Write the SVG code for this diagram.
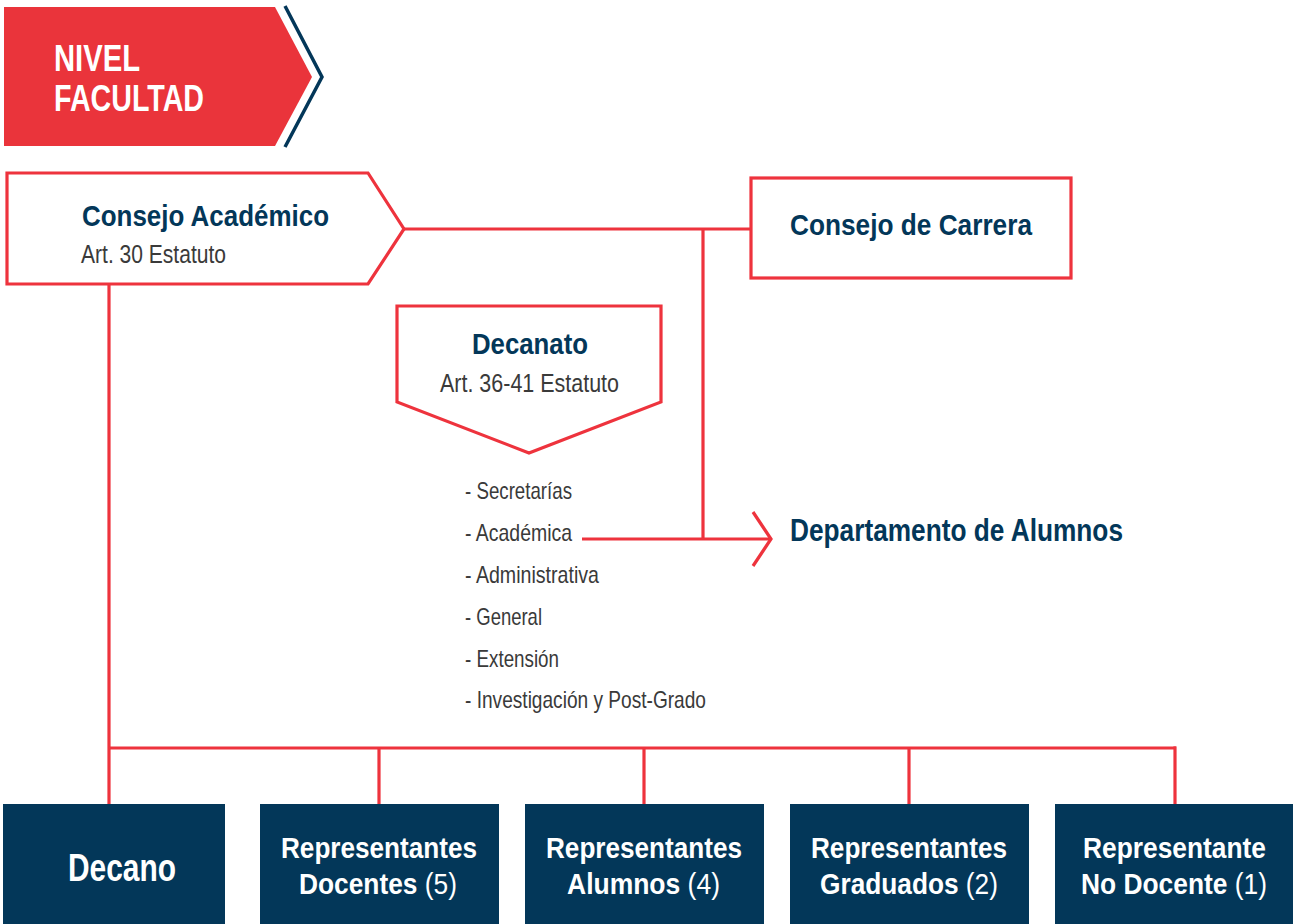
<svg xmlns="http://www.w3.org/2000/svg" width="1293" height="924" viewBox="0 0 1293 924">
<style>
.f{font-family:"Liberation Sans",Arial,sans-serif}
.b{font-weight:bold;fill:#033759}
.r{fill:#3a3a3a}
.w{fill:#ffffff;font-weight:bold}
.n{font-weight:normal}
.ln{fill:none;stroke:#EE333D;stroke-width:3.2}
.box{fill:#033759}
</style>
<rect width="1293" height="924" fill="#ffffff"/>
<g id="header">
<polygon points="4,7 275,7 312,77 275,146 4,146" fill="#EA343B"/>
<polyline points="285,6 322,77 285,147" fill="none" stroke="#033759" stroke-width="3.5"/>
<text class="f w" x="54" y="71" font-size="36" textLength="86" lengthAdjust="spacingAndGlyphs">NIVEL</text>
<text class="f w" x="54" y="111" font-size="36" textLength="150" lengthAdjust="spacingAndGlyphs">FACULTAD</text>
</g>
<g id="connectors" class="ln">
<line x1="404" y1="229" x2="752" y2="229"/>
<line x1="703" y1="229" x2="703" y2="539"/>
<line x1="582" y1="539" x2="771" y2="539"/>
<polyline points="753,512 771,539 753,566"/>
<line x1="109" y1="284" x2="109" y2="804"/>
<line x1="109" y1="748" x2="1176" y2="748"/>
<line x1="379" y1="748" x2="379" y2="804"/>
<line x1="644" y1="748" x2="644" y2="804"/>
<line x1="909" y1="748" x2="909" y2="804"/>
<line x1="1175" y1="746.4" x2="1175" y2="804"/>
</g>
<g id="consejo-academico">
<polygon class="ln" points="7,173 368,173 404,229 368,284 7,284" fill="#fff"/>
<text class="f b" x="82" y="226" font-size="30" textLength="247" lengthAdjust="spacingAndGlyphs">Consejo Académico</text>
<text class="f r" x="81" y="263" font-size="25" textLength="145" lengthAdjust="spacingAndGlyphs">Art. 30 Estatuto</text>
</g>
<g id="consejo-carrera">
<rect class="ln" x="751" y="178" width="320" height="100" fill="#fff"/>
<text class="f b" x="790" y="235" font-size="30" textLength="242" lengthAdjust="spacingAndGlyphs">Consejo de Carrera</text>
</g>
<g id="decanato">
<polygon class="ln" points="397,306 661,306 661,402 529,453 397,402" fill="#fff"/>
<text class="f b" x="472" y="354" font-size="30" textLength="116" lengthAdjust="spacingAndGlyphs">Decanato</text>
<text class="f r" x="440" y="392" font-size="25" textLength="179" lengthAdjust="spacingAndGlyphs">Art. 36-41 Estatuto</text>
</g>
<g id="secretarias" class="f r" font-size="24">
<text x="465" y="499" textLength="107" lengthAdjust="spacingAndGlyphs">- Secretarías</text>
<text x="465" y="541" textLength="107" lengthAdjust="spacingAndGlyphs">- Académica</text>
<text x="465" y="583" textLength="134" lengthAdjust="spacingAndGlyphs">- Administrativa</text>
<text x="465" y="625" textLength="77" lengthAdjust="spacingAndGlyphs">- General</text>
<text x="465" y="667" textLength="94" lengthAdjust="spacingAndGlyphs">- Extensión</text>
<text x="465" y="708" textLength="241" lengthAdjust="spacingAndGlyphs">- Investigación y Post-Grado</text>
</g>
<g id="departamento-alumnos">
<text class="f b" x="790" y="541" font-size="31" textLength="333" lengthAdjust="spacingAndGlyphs">Departamento de Alumnos</text>
</g>
<g id="decano">
<rect class="box" x="3" y="804" width="222" height="120"/>
<text class="f w" x="68" y="881" font-size="38" textLength="108" lengthAdjust="spacingAndGlyphs">Decano</text>
</g>
<g id="rep-docentes">
<rect class="box" x="260" y="804" width="239" height="120"/>
<text class="f w" x="281" y="858" font-size="30" textLength="196" lengthAdjust="spacingAndGlyphs">Representantes</text>
<text class="f w" transform="translate(378,894) scale(0.878,1)" x="0" y="0" font-size="30" text-anchor="middle">Docentes <tspan class="n">(5)</tspan></text>
</g>
<g id="rep-alumnos">
<rect class="box" x="525" y="804" width="239" height="120"/>
<text class="f w" x="546" y="858" font-size="30" textLength="196" lengthAdjust="spacingAndGlyphs">Representantes</text>
<text class="f w" transform="translate(643.5,894) scale(0.883,1)" x="0" y="0" font-size="30" text-anchor="middle">Alumnos <tspan class="n">(4)</tspan></text>
</g>
<g id="rep-graduados">
<rect class="box" x="790" y="804" width="239" height="120"/>
<text class="f w" x="811" y="858" font-size="30" textLength="196" lengthAdjust="spacingAndGlyphs">Representantes</text>
<text class="f w" transform="translate(909,894) scale(0.875,1)" x="0" y="0" font-size="30" text-anchor="middle">Graduados <tspan class="n">(2)</tspan></text>
</g>
<g id="rep-no-docente">
<rect class="box" x="1055" y="804" width="238" height="120"/>
<text class="f w" x="1083" y="858" font-size="30" textLength="183" lengthAdjust="spacingAndGlyphs">Representante</text>
<text class="f w" transform="translate(1174,894) scale(0.879,1)" x="0" y="0" font-size="30" text-anchor="middle">No Docente <tspan class="n">(1)</tspan></text>
</g>
</svg>
